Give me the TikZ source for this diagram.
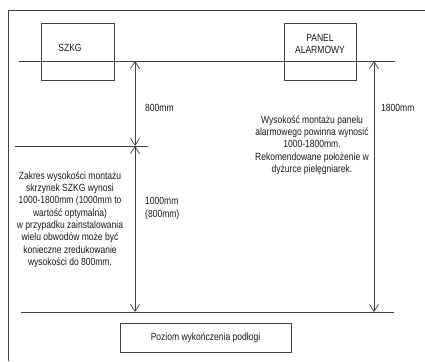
\documentclass[tikz,border=0pt]{standalone}
\usepackage{fontspec}
\setmainfont{Liberation Sans}[FakeStretch=0.82]
\usetikzlibrary{arrows.meta}
\definecolor{ln}{HTML}{404040}
\begin{document}
\begin{tikzpicture}[x=1pt,y=-1pt,
  every node/.style={font=\fontsize{10.4}{12.3}\selectfont,text=black!90},
  ln/.style={draw=ln,line width=0.9pt},
  boxst/.style={ln,rectangle,inner sep=0pt,align=center},
  dim/.style={ln,{Straight Barb[length=7pt,width=9pt,line width=0.7pt]}-{Straight Barb[length=7pt,width=9pt,line width=0.7pt]}},
  txt/.style={align=center,inner sep=0pt}]
\useasboundingbox (0,0) rectangle (425,361);
\fill[white] (0,0) rectangle (425,361);
% frame
\draw[ln] (8,361) -- (8,10) -- (425,10);
% level lines
\coordinate (t1) at (19,61); \coordinate (t2) at (395,61);
\coordinate (m1) at (15,146); \coordinate (m2) at (148,146);
\coordinate (b1) at (21,312); \coordinate (b2) at (394,312);
\draw[ln] (t1) -- (t2);
\draw[ln] (m1) -- (m2);
\draw[ln] (b1) -- (b2);
% boxes
\node[boxst,minimum width=73pt,minimum height=57pt] (szkg) at (77.5,51.5) {};
\node[txt] (szkgt) at (70,48) {SZKG};
\node[boxst,minimum width=72pt,minimum height=57pt] (panel) at (320,51.5) {};
\node[txt] (panelt) at (320,44) {PANEL\\ALARMOWY};
\node[boxst,minimum width=171pt,minimum height=29pt] (floor) at (205.5,337.5) {Poziom wykończenia podłogi};
% dimension arrows
\coordinate (a1) at (135,61); \coordinate (a2) at (135,146); \coordinate (a3) at (135,312);
\coordinate (r1) at (374,61); \coordinate (r2) at (374,312);
\draw[dim] (a1) -- (a2);
\draw[dim] (a2) -- (a3);
\draw[dim] (r1) -- (r2);
% labels
\node[txt,anchor=west] (l800) at (145,108) {800mm};
\node[txt,anchor=west] (l1800) at (381,108) {1800mm};
\node[txt,anchor=west,align=left] (l1000) at (145,208.5) {1000mm\\(800mm)};
\node[txt] (ltext) at (70,219.5) {Zakres wysokości montażu\\skrzynek SZKG wynosi\\1000-1800mm (1000mm to\\wartość optymalna)\\w przypadku zainstalowania\\wielu obwodów może być\\konieczne zredukowanie\\wysokości do 800mm.};
\node[txt] (rtext) at (312,145) {Wysokość montażu panelu\\alarmowego powinna wynosić\\1000-1800mm.\\Rekomendowane położenie w\\dyżurce pielęgniarek.};
\end{tikzpicture}
\end{document}
